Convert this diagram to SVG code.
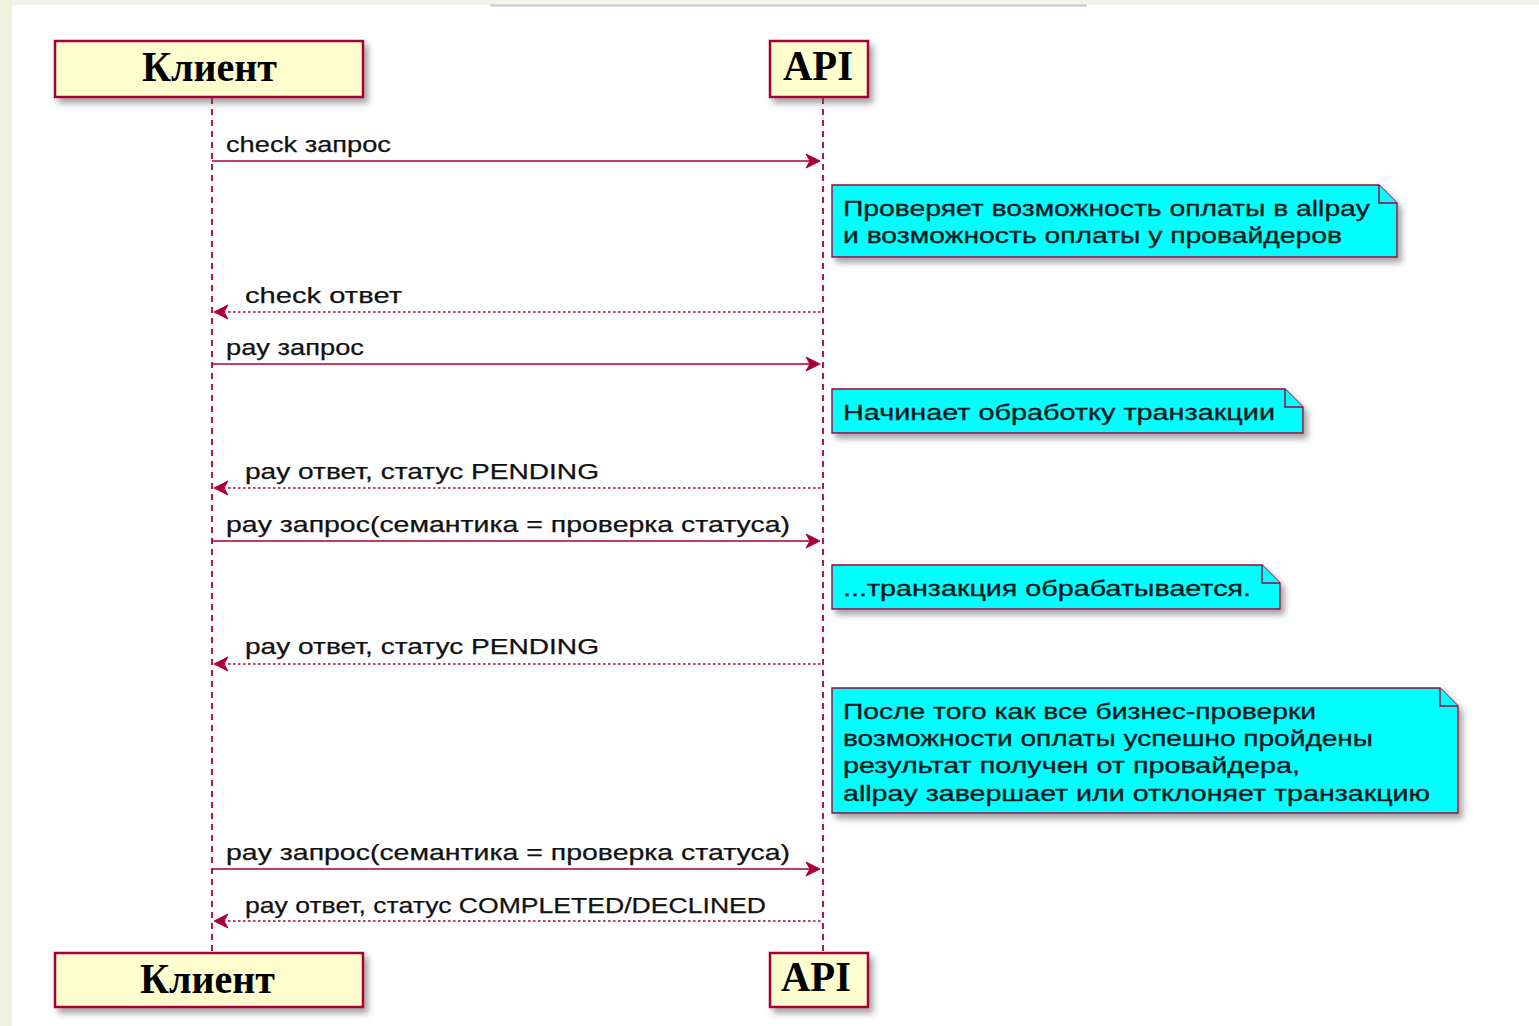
<svg xmlns="http://www.w3.org/2000/svg" width="1539" height="1026" viewBox="0 0 1539 1026">
<defs>
<filter id="sh" x="-10%" y="-20%" width="130%" height="160%">
<feDropShadow dx="4" dy="5" stdDeviation="3" flood-color="#555" flood-opacity="0.55"/>
</filter>
<style>
.part{fill:#fefece;stroke:#a80036;stroke-width:2.5}
.ptxt{font-family:"Liberation Serif","Times New Roman",serif;font-weight:bold;font-size:42px;fill:#000}
.life{stroke:#a80036;stroke-width:1.8;stroke-dasharray:6,5;fill:none}
.msg{stroke:#a80036;stroke-width:1.6;fill:none}
.ret{stroke:#a80036;stroke-width:1.6;stroke-dasharray:2.5,2.5;fill:none}
.head{fill:#a80036;stroke:#a80036;stroke-width:1}
.lbl{font-family:"Liberation Sans",Arial,sans-serif;font-size:22.5px;fill:#111;stroke:#111;stroke-width:0.25}
.note{fill:#00ffff;stroke:#a80036;stroke-width:1.4}
.fold{fill:#00ffff;stroke:#a80036;stroke-width:1.4}
.ntxt{font-family:"Liberation Sans",Arial,sans-serif;font-size:22.5px;fill:#0a1a1a;stroke:#0a1a1a;stroke-width:0.35}
</style>
</defs>
<rect x="0" y="0" width="1539" height="1026" fill="#ffffff"/>
<rect x="0" y="0" width="1539" height="5" fill="#f1f3e6"/>
<rect x="0" y="0" width="12" height="1026" fill="#eef1e0"/>
<line x1="490" y1="5.5" x2="1087" y2="5.5" stroke="#c8c8cc" stroke-width="2"/>

<g id="lifelines">
<line class="life" x1="212" y1="98" x2="212" y2="953"/>
<line class="life" x1="823" y1="98" x2="823" y2="953"/>
</g>

<g id="client-top">
<rect class="part" x="55" y="41" width="308" height="56" filter="url(#sh)"/>
<text class="ptxt" x="142" y="81" textLength="135" lengthAdjust="spacingAndGlyphs">Клиент</text>
</g>
<g id="api-top">
<rect class="part" x="770" y="41" width="98" height="56" filter="url(#sh)"/>
<text class="ptxt" x="783" y="80" textLength="70" lengthAdjust="spacingAndGlyphs">API</text>
</g>
<g id="client-bottom">
<rect class="part" x="55" y="953" width="308" height="54" filter="url(#sh)"/>
<text class="ptxt" x="140" y="993" textLength="135" lengthAdjust="spacingAndGlyphs">Клиент</text>
</g>
<g id="api-bottom">
<rect class="part" x="770" y="953" width="98" height="54" filter="url(#sh)"/>
<text class="ptxt" x="781" y="991" textLength="70" lengthAdjust="spacingAndGlyphs">API</text>
</g>

<g id="note1">
<path class="note" d="M832,185 H1379 L1397,203 V257 H832 Z" filter="url(#sh)"/>
<path class="fold" d="M1379,185 V203 H1397"/>
<text class="ntxt" x="843" y="216" textLength="527" lengthAdjust="spacingAndGlyphs">Проверяет возможность оплаты в allpay</text>
<text class="ntxt" x="843" y="243" textLength="499" lengthAdjust="spacingAndGlyphs">и возможность оплаты у провайдеров</text>
</g>
<g id="note2">
<path class="note" d="M832,389 H1285 L1303,407 V433 H832 Z" filter="url(#sh)"/>
<path class="fold" d="M1285,389 V407 H1303"/>
<text class="ntxt" x="843" y="420" textLength="432" lengthAdjust="spacingAndGlyphs">Начинает обработку транзакции</text>
</g>
<g id="note3">
<path class="note" d="M832,565 H1262 L1280,583 V609 H832 Z" filter="url(#sh)"/>
<path class="fold" d="M1262,565 V583 H1280"/>
<text class="ntxt" x="843" y="596" textLength="408" lengthAdjust="spacingAndGlyphs">...транзакция обрабатывается.</text>
</g>
<g id="note4">
<path class="note" d="M832,688 H1440 L1458,706 V813 H832 Z" filter="url(#sh)"/>
<path class="fold" d="M1440,688 V706 H1458"/>
<text class="ntxt" x="843" y="719" textLength="473" lengthAdjust="spacingAndGlyphs">После того как все бизнес-проверки</text>
<text class="ntxt" x="843" y="746" textLength="530" lengthAdjust="spacingAndGlyphs">возможности оплаты успешно пройдены</text>
<text class="ntxt" x="843" y="773" textLength="457" lengthAdjust="spacingAndGlyphs">результат получен от провайдера,</text>
<text class="ntxt" x="843" y="801" textLength="587" lengthAdjust="spacingAndGlyphs">allpay завершает или отклоняет транзакцию</text>
</g>

<g id="connectors">
<line class="msg" x1="212" y1="161" x2="816" y2="161"/>
<polygon class="head" points="806,154 820,161 806,168 810,161"/>
<text class="lbl" x="226" y="152" textLength="165" lengthAdjust="spacingAndGlyphs">check запрос</text>

<line class="ret" x1="218" y1="312" x2="823" y2="312"/>
<polygon class="head" points="228,305 214,312 228,319 224,312"/>
<text class="lbl" x="245" y="303" textLength="157" lengthAdjust="spacingAndGlyphs">check ответ</text>

<line class="msg" x1="212" y1="364" x2="816" y2="364"/>
<polygon class="head" points="806,357 820,364 806,371 810,364"/>
<text class="lbl" x="226" y="355" textLength="138" lengthAdjust="spacingAndGlyphs">pay запрос</text>

<line class="ret" x1="218" y1="488" x2="823" y2="488"/>
<polygon class="head" points="228,481 214,488 228,495 224,488"/>
<text class="lbl" x="245" y="479" textLength="354" lengthAdjust="spacingAndGlyphs">pay ответ, статус PENDING</text>

<line class="msg" x1="212" y1="541" x2="816" y2="541"/>
<polygon class="head" points="806,534 820,541 806,548 810,541"/>
<text class="lbl" x="226" y="532" textLength="564" lengthAdjust="spacingAndGlyphs">pay запрос(семантика = проверка статуса)</text>

<line class="ret" x1="218" y1="664" x2="823" y2="664"/>
<polygon class="head" points="228,657 214,664 228,671 224,664"/>
<text class="lbl" x="245" y="654" textLength="354" lengthAdjust="spacingAndGlyphs">pay ответ, статус PENDING</text>

<line class="msg" x1="212" y1="869" x2="816" y2="869"/>
<polygon class="head" points="806,862 820,869 806,876 810,869"/>
<text class="lbl" x="226" y="860" textLength="564" lengthAdjust="spacingAndGlyphs">pay запрос(семантика = проверка статуса)</text>

<line class="ret" x1="218" y1="921" x2="823" y2="921"/>
<polygon class="head" points="228,914 214,921 228,928 224,921"/>
<text class="lbl" x="245" y="913" textLength="521" lengthAdjust="spacingAndGlyphs">pay ответ, статус COMPLETED/DECLINED</text>
</g>
</svg>
